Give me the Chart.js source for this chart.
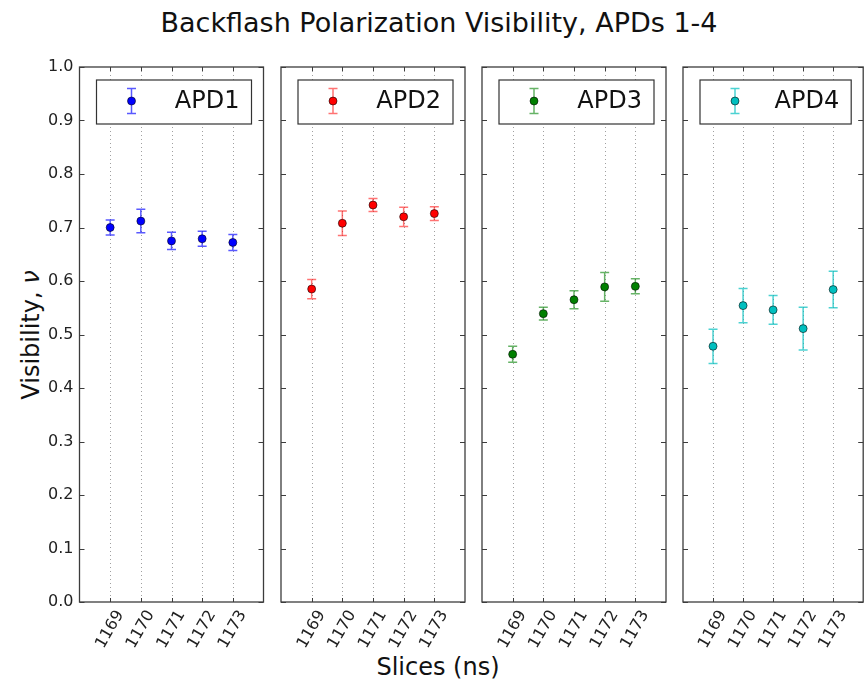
<!DOCTYPE html>
<html>
<head>
<meta charset="utf-8">
<script src="https://cdn.jsdelivr.net/npm/chart.js@4.4.1/dist/chart.umd.min.js"></script>
<style>
  html, body { margin: 0; padding: 0; background: #fff; }
  body { width: 868px; height: 683px; position: relative; overflow: hidden; font-family: "DejaVu Sans", sans-serif; color: #111; }
  .wrap { position: absolute; top: 0; }
  .txt { position: absolute; white-space: nowrap; font-size: 24px; line-height: 1; }
</style>
</head>
<body>
<div class="txt" id="title" style="left:439px; top:22px; font-size:27px; transform:translate(-50%,-50%);">Backflash Polarization Visibility, APDs 1-4</div>
<div class="txt" id="xlabel" style="left:438px; top:667px; transform:translate(-50%,-50%);">Slices (ns)</div>
<div class="txt" id="ylabel" style="left:31px; top:335px; transform:translate(-50%,-50%) rotate(-90deg);">Visibility, <i>ν</i></div>
<script>
// ---- data ----
const slices = [1169, 1170, 1171, 1172, 1173];
const sliceTicks = ['1169', '1170', '1171', '1172', '1173'];
const yTicks = [0.0, 0.1, 0.2, 0.3, 0.4, 0.5, 0.6, 0.7, 0.8, 0.9, 1.0];
const seriesNames = ['APD1', 'APD2', 'APD3', 'APD4'];
const apd1 = [0.700, 0.712, 0.675, 0.679, 0.672];
const apd1Err = [0.014, 0.022, 0.016, 0.014, 0.015];
const apd2 = [0.585, 0.708, 0.742, 0.720, 0.726];
const apd2Err = [0.018, 0.023, 0.012, 0.018, 0.013];
const apd3 = [0.463, 0.539, 0.565, 0.589, 0.590];
const apd3Err = [0.015, 0.012, 0.017, 0.027, 0.014];
const apd4 = [0.478, 0.554, 0.546, 0.511, 0.584];
const apd4Err = [0.032, 0.032, 0.027, 0.040, 0.034];

const values = [apd1, apd2, apd3, apd4];
const errors = [apd1Err, apd2Err, apd3Err, apd4Err];
const colors = ['#0000ff', '#ff0000', '#008000', '#00bfbf'];
const errColors = ['rgba(0,0,255,0.65)', 'rgba(255,0,0,0.55)', 'rgba(0,128,0,0.6)', 'rgba(0,191,191,0.7)'];

// ---- layout ----
const areaLefts = [79.5, 281, 482, 683];
const areaWidth = 184;
const areaTop = 67;
const areaBottom = 602;
const H = 683;

const panelPlugin = {
  id: 'panelPlugin',
  beforeDatasetsDraw(chart) {
    const { ctx, chartArea: a, scales } = chart;
    const x = scales.x, y = scales.y;
    ctx.save();
    ctx.strokeStyle = '#a0a0a0';
    ctx.lineWidth = 1;
    ctx.setLineDash([1, 3]);
    x.ticks.forEach(t => {
      const px = Math.round(x.getPixelForValue(t.value)) + 0.5;
      ctx.beginPath(); ctx.moveTo(px, a.top); ctx.lineTo(px, a.bottom); ctx.stroke();
    });
    ctx.setLineDash([]);
    chart.data.datasets.forEach((ds, di) => {
      const meta = chart.getDatasetMeta(di);
      ctx.strokeStyle = ds.errColor;
      ctx.lineWidth = 1.5;
      meta.data.forEach((pt, i) => {
        const v = ds.data[i].y, e = ds.errors[i];
        const y1 = y.getPixelForValue(v + e), y2 = y.getPixelForValue(v - e);
        const px = pt.x;
        ctx.beginPath();
        ctx.moveTo(px, y1); ctx.lineTo(px, y2);
        ctx.moveTo(px - 4.5, y1); ctx.lineTo(px + 4.5, y1);
        ctx.moveTo(px - 4.5, y2); ctx.lineTo(px + 4.5, y2);
        ctx.stroke();
      });
    });
    ctx.restore();
  },
  afterDraw(chart) {
    const { ctx, chartArea: a, scales } = chart;
    const x = scales.x, y = scales.y;
    ctx.save();
    ctx.strokeStyle = '#3c3c3c';
    ctx.lineWidth = 1.3;
    ctx.strokeRect(a.left, a.top, a.right - a.left, a.bottom - a.top);
    ctx.lineWidth = 1;
    y.ticks.forEach(t => {
      const py = Math.round(y.getPixelForValue(t.value)) + 0.5;
      ctx.beginPath();
      ctx.moveTo(a.left, py); ctx.lineTo(a.left + 5, py);
      ctx.moveTo(a.right, py); ctx.lineTo(a.right - 5, py);
      ctx.stroke();
    });
    x.ticks.forEach(t => {
      const px = Math.round(x.getPixelForValue(t.value)) + 0.5;
      ctx.beginPath();
      ctx.moveTo(px, a.top); ctx.lineTo(px, a.top + 4);
      ctx.moveTo(px, a.bottom); ctx.lineTo(px, a.bottom - 4);
      ctx.stroke();
    });
    const ds = chart.data.datasets[0];
    const bl = a.left + 17, bt = a.top + 13, br = a.right - 12, bb = a.top + 57;
    ctx.fillStyle = '#fff';
    ctx.fillRect(bl, bt, br - bl, bb - bt);
    ctx.strokeStyle = '#333';
    ctx.lineWidth = 1.2;
    ctx.strokeRect(bl, bt, br - bl, bb - bt);
    const mx = bl + 35, my = (bt + bb) / 2 - 1;
    ctx.strokeStyle = ds.errColor;
    ctx.lineWidth = 1.5;
    ctx.beginPath();
    ctx.moveTo(mx, my - 12.5); ctx.lineTo(mx, my + 12.5);
    ctx.moveTo(mx - 4.5, my - 12.5); ctx.lineTo(mx + 4.5, my - 12.5);
    ctx.moveTo(mx - 4.5, my + 12.5); ctx.lineTo(mx + 4.5, my + 12.5);
    ctx.stroke();
    ctx.beginPath();
    ctx.arc(mx, my, 4, 0, Math.PI * 2);
    ctx.fillStyle = ds.backgroundColor;
    ctx.fill();
    ctx.strokeStyle = 'rgba(0,0,0,0.7)';
    ctx.lineWidth = 0.8;
    ctx.stroke();
    ctx.fillStyle = '#111';
    ctx.font = '24px "DejaVu Sans"';
    ctx.textAlign = 'right';
    ctx.textBaseline = 'middle';
    ctx.fillText(ds.label, br - 12, my + 1);
    ctx.restore();
  }
};

seriesNames.forEach((name, k) => {
  const first = k === 0;
  const yw = first ? areaLefts[0] : 20;
  const left = first ? 0 : areaLefts[k] - yw;
  const rightPad = k === 3 ? 868 - (areaLefts[k] + areaWidth) : 6;
  const W = Math.ceil(yw + areaWidth + rightPad);
  const wrap = document.createElement('div');
  wrap.className = 'wrap';
  wrap.style.left = left + 'px';
  wrap.style.width = W + 'px';
  wrap.style.height = H + 'px';
  const cv = document.createElement('canvas');
  cv.width = W; cv.height = H;
  cv.style.width = W + 'px'; cv.style.height = H + 'px';
  wrap.appendChild(cv);
  document.body.appendChild(wrap);

  new Chart(cv, {
    type: 'scatter',
    data: {
      datasets: [{
        label: name,
        data: slices.map((s, i) => ({ x: s, y: values[k][i] })),
        errors: errors[k],
        errColor: errColors[k],
        backgroundColor: colors[k],
        borderColor: 'rgba(0,0,0,0.7)',
        borderWidth: 0.8,
        pointRadius: 4,
        pointHoverRadius: 4
      }]
    },
    options: {
      responsive: false,
      animation: false,
      events: [],
      layout: { padding: { left: 0, right: W - yw - areaWidth, top: areaTop, bottom: 0 } },
      plugins: { legend: { display: false }, tooltip: { enabled: false }, title: { display: false } },
      scales: {
        x: {
          type: 'linear',
          min: 1168, max: 1174,
          grid: { display: false, drawTicks: false },
          border: { display: false },
          afterBuildTicks: s => { s.ticks = slices.map(v => ({ value: v })); },
          afterFit: s => { s.height = H - areaBottom; },
          ticks: {
            autoSkip: false,
            minRotation: 60, maxRotation: 60,
            labelOffset: 10,
            padding: 5,
            color: '#222',
            font: { family: 'DejaVu Sans', size: 16 },
            callback: (v) => sliceTicks[slices.indexOf(v)] ?? ''
          }
        },
        y: {
          type: 'linear',
          min: 0, max: 1,
          grid: { display: false, drawTicks: false },
          border: { display: false },
          afterBuildTicks: s => { s.ticks = yTicks.map(v => ({ value: v })); },
          afterFit: s => { s.width = yw; },
          ticks: {
            display: first,
            padding: 6,
            color: '#222',
            font: { family: 'DejaVu Sans', size: 16 },
            callback: v => Number(v).toFixed(1)
          }
        }
      }
    },
    plugins: [panelPlugin]
  });
});
</script>
</body>
</html>
